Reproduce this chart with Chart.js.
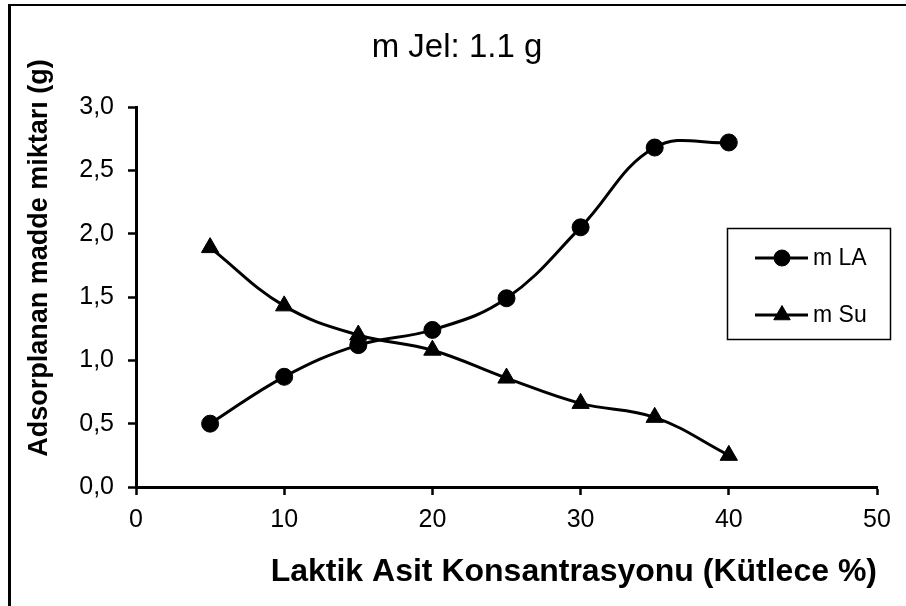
<!DOCTYPE html>
<html>
<head>
<meta charset="utf-8">
<title>Adsorplanan madde miktarı</title>
<script src="https://cdn.jsdelivr.net/npm/chart.js@4.4.1/dist/chart.umd.min.js"></script>
<style>
  html, body { margin: 0; padding: 0; background: #fff; }
  #wrap { width: 906px; height: 606px; }
</style>
</head>
<body>
<div id="wrap"><canvas id="grafik" width="906" height="606"></canvas></div>
<script>
// konsantrasyon (%) ve adsorplanan miktarlar (g)
var konsantrasyon = [5, 10, 15, 20, 25, 30, 35, 40];
var mLA = [0.50, 0.87, 1.12, 1.24, 1.49, 2.05, 2.68, 2.72];
var mSu = [1.89, 1.43, 1.20, 1.08, 0.86, 0.66, 0.55, 0.25];
var seriAdlari = ['m LA', 'm Su'];
var xTikler = [0, 10, 20, 30, 40, 50];
var yTikler = ['0,0', '0,5', '1,0', '1,5', '2,0', '2,5', '3,0'];
var baslik = 'm Jel: 1.1 g';
var yBaslik = 'Adsorplanan madde miktarı (g)';
var xBaslik = 'Laktik Asit Konsantrasyonu (Kütlece %)';

var yazi = 'Liberation Sans, Arial, sans-serif';

function noktalar(ys) {
	return konsantrasyon.map(function(x, i) { return { x: x, y: ys[i] }; });
}

// cerceve, ust baslik, dikey eksen basligi ve gosterge kutusu
var ekler = {
	id: 'ekler',
	afterDraw: function(chart) {
		var ctx = chart.ctx;
		ctx.save();
		ctx.strokeStyle = '#000';
		ctx.lineWidth = 3;
		ctx.beginPath();
		ctx.moveTo(9.5, 606);
		ctx.lineTo(9.5, 5);
		ctx.stroke();
		ctx.lineWidth = 2;
		ctx.beginPath();
		ctx.moveTo(8, 5);
		ctx.lineTo(906, 5);
		ctx.stroke();

		ctx.fillStyle = '#000';
		ctx.font = '33px ' + yazi;
		ctx.textAlign = 'center';
		ctx.textBaseline = 'alphabetic';
		ctx.fillText(baslik, 457, 57);

		ctx.save();
		ctx.translate(47, 258);
		ctx.rotate(-Math.PI / 2);
		ctx.font = 'bold 27px ' + yazi;
		ctx.fillText(yBaslik, 0, 0);
		ctx.restore();

		// gosterge
		ctx.lineWidth = 1.5;
		ctx.strokeRect(727.5, 228.5, 163, 111);
		var satirlar = [258, 315];
		ctx.font = '23px ' + yazi;
		ctx.textAlign = 'left';
		ctx.textBaseline = 'middle';
		chart.data.datasets.forEach(function(ds, i) {
			var y = satirlar[i];
			ctx.lineWidth = 3;
			ctx.beginPath();
			ctx.moveTo(755, y);
			ctx.lineTo(808, y);
			ctx.stroke();
			ctx.fillStyle = '#000';
			ctx.lineWidth = 1;
			Chart.helpers.drawPoint(ctx, {
				pointStyle: ds.pointStyle,
				radius: ds.pointStyle === 'triangle' ? 9.5 : 8,
				rotation: 0,
				borderWidth: 1
			}, 782, y);
			ctx.fillText(ds.label, 813, y + 1);
		});
		ctx.restore();
	}
};

window.onload = function() {
	var ctx = document.getElementById('grafik').getContext('2d');
	window.grafik = new Chart(ctx, {
		type: 'scatter',
		data: {
			datasets: [{
				label: seriAdlari[0],
				data: noktalar(mLA),
				showLine: true,
				tension: 0.4,
				borderColor: '#000',
				backgroundColor: '#000',
				borderWidth: 3,
				pointStyle: 'circle',
				pointRadius: 8.5,
				pointBorderWidth: 1
			}, {
				label: seriAdlari[1],
				data: noktalar(mSu),
				showLine: true,
				tension: 0.4,
				borderColor: '#000',
				backgroundColor: '#000',
				borderWidth: 3,
				pointStyle: 'triangle',
				pointRadius: 10,
				pointBorderWidth: 1
			}]
		},
		options: {
			responsive: false,
			animation: false,
			layout: { padding: { top: 107, right: 29, left: 0, bottom: 0 } },
			plugins: {
				legend: { display: false },
				title: { display: false },
				tooltip: { enabled: false }
			},
			scales: {
				x: {
					type: 'linear',
					min: 0,
					max: 50,
					afterBuildTicks: function(scale) {
						scale.ticks = xTikler.map(function(v) { return { value: v }; });
					},
					afterFit: function(scale) { scale.height = 119; },
					grid: { display: true, drawOnChartArea: false, drawTicks: true, tickLength: 8, tickWidth: 2.5, color: '#000' },
					border: { display: true, color: '#000', width: 3 },
					ticks: {
						color: '#000',
						padding: 10,
						maxRotation: 0,
						font: { family: yazi, size: 25 }
					},
					title: {
						display: true,
						text: xBaslik,
						align: 'end',
						color: '#000',
						padding: { top: 0, bottom: 15 },
						font: { family: yazi, size: 32, weight: 'bold' }
					}
				},
				y: {
					min: 0,
					max: 3,
					afterBuildTicks: function(scale) {
						scale.ticks = yTikler.map(function(t, i) { return { value: i * 0.5 }; });
					},
					afterFit: function(scale) { scale.width = 136; },
					grid: { display: true, drawOnChartArea: false, drawTicks: true, tickLength: 8, tickWidth: 2.5, color: '#000' },
					border: { display: true, color: '#000', width: 3 },
					ticks: {
						color: '#000',
						padding: 14,
						font: { family: yazi, size: 25 },
						callback: function(v, i) { return yTikler[i]; }
					}
				}
			}
		},
		plugins: [ekler]
	});
};
</script>
</body>
</html>
